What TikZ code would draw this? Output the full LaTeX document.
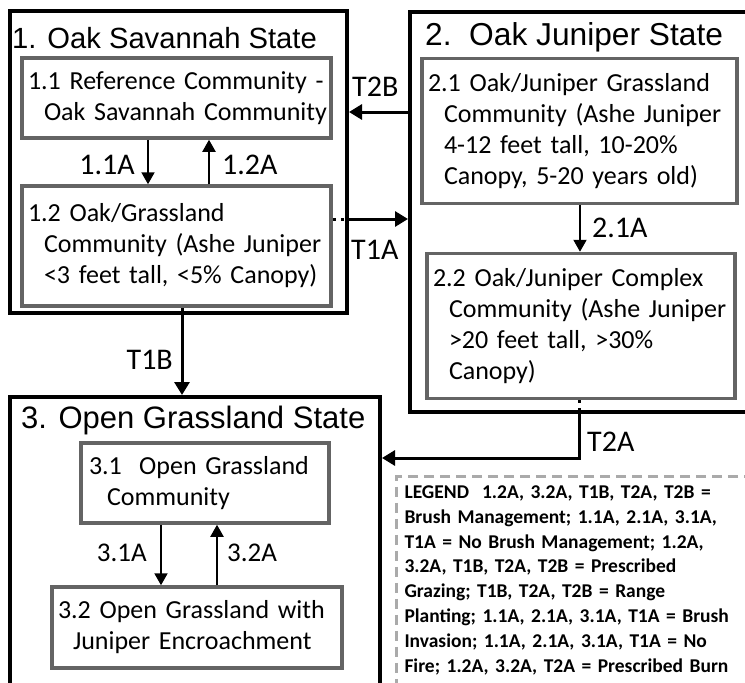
\documentclass[tikz,border=0pt]{standalone}
\usepackage{fontspec}
\setmainfont{Carlito}
\newfontfamily\titlefont{Liberation Sans}
\usetikzlibrary{arrows.meta,calc}
\definecolor{boxgray}{RGB}{100,100,100}
\definecolor{leggray}{RGB}{170,170,170}
\begin{document}
\begin{tikzpicture}[x=1pt,y=-1pt,
  statebox/.style={draw=black,line width=4pt,rectangle,inner sep=0pt},
  statetitle/.style={anchor=west,inner sep=0pt},
  comm/.style={draw=boxgray,line width=3.5pt,rectangle,align=left,inner xsep=6pt,inner ysep=0pt,
    font=\fontsize{26}{31}\selectfont},
  lab/.style={inner sep=0pt,font=\fontsize{30}{36}\selectfont},
  smlab/.style={inner sep=0pt,font=\fontsize{27}{32}\selectfont},
  tarrow/.style={line width=3pt,-{Triangle[length=13pt,width=15pt]}},
  carrow/.style={line width=2pt,-{Triangle[length=12pt,width=13pt]}},
  dotseg/.style={line width=3pt,dash pattern=on 3pt off 5pt}
]
\useasboundingbox (0,0) rectangle (745,683);
\fill[white] (0,0) rectangle (745,683);

% states
\node[statebox,minimum width=337pt,minimum height=302pt] (S1) at (178.5,162) {};
\node[statebox,minimum width=337pt,minimum height=400pt] (S2) at (578.5,212) {};
\node[statebox,minimum width=370pt,minimum height=303pt] (S3) at (195,548.5) {};
\node[statetitle,font=\titlefont\fontsize{29.2}{35}\selectfont] (t1) at (12,38) {1. Oak Savannah State};
\node[statetitle,font=\titlefont\fontsize{31.7}{37}\selectfont] (t2) at (425,37) {2.\ \ Oak Juniper State};
\node[statetitle,font=\titlefont\fontsize{31}{36}\selectfont] (t3) at (21,420) {3. Open Grassland State};

% communities
\node[comm,text width=297pt,minimum height=80pt] (b11) at (176.5,98)
  {\mbox{1.1 Reference Community -}\\\mbox{\hspace*{16pt}Oak Savannah Community}};
\node[comm,text width=297pt,minimum height=120pt] (b12) at (176.5,246)
  {\mbox{1.2 Oak/Grassland}\\\mbox{\hspace*{16pt}Community (Ashe Juniper}\\\mbox{\hspace*{16pt}<3 feet tall, <5\% Canopy)}};
\node[comm,text width=303pt,minimum height=145pt] (b21) at (579.5,131)
  {\mbox{2.1 Oak/Juniper Grassland}\\\mbox{\hspace*{16pt}Community (Ashe Juniper}\\\mbox{\hspace*{16pt}4-12 feet tall, 10-20\%}\\\mbox{\hspace*{16pt}Canopy, 5-20 years old)}};
\node[comm,text width=296pt,minimum height=145pt] (b22) at (581,326)
  {\mbox{2.2 Oak/Juniper Complex}\\\mbox{\hspace*{16pt}Community (Ashe Juniper}\\\mbox{\hspace*{16pt}>20 feet tall, >30\%}\\\mbox{\hspace*{16pt}Canopy)}};
\node[comm,text width=232pt,minimum height=80pt,inner xsep=8pt] (b31) at (205,483)
  {\mbox{3.1\ \ Open Grassland}\\\mbox{\hspace*{18pt}Community}};
\node[comm,text width=278pt,minimum height=81pt] (b32) at (197,627.5)
  {\mbox{3.2 Open Grassland with}\\\mbox{\hspace*{15pt}Juniper Encroachment}};

% legend
\node[draw=leggray,line width=3pt,dash pattern=on 10pt off 6pt,anchor=north west,align=left,
  text width=355pt,inner xsep=8pt,inner ysep=9pt,font=\bfseries\fontsize{19.5}{24.9}\selectfont] (leg) at (395,475)
  {\mbox{LEGEND\ \ 1.2A, 3.2A, T1B, T2A, T2B =}\\
   \mbox{Brush Management; 1.1A, 2.1A, 3.1A,}\\
   \mbox{T1A = No Brush Management; 1.2A,}\\
   \mbox{3.2A, T1B, T2A, T2B = Prescribed}\\
   \mbox{Grazing; T1B, T2A, T2B = Range}\\
   \mbox{Planting; 1.1A, 2.1A, 3.1A, T1A = Brush}\\
   \mbox{Invasion; 1.1A, 2.1A, 3.1A, T1A = No}\\
   \mbox{Fire; 1.2A, 3.2A, T2A = Prescribed Burn}};

% inner arrows
\draw[carrow] (b11.south -| 148,0) -- (b12.north -| 148,0);
\draw[carrow] (b12.north -| 209,0) -- (b11.south -| 209,0);
\draw[carrow] (b21.south -| 580,0) -- (b22.north -| 580,0);
\draw[carrow] (b31.south -| 161,0) -- (b32.north -| 161,0);
\draw[carrow] (b32.north -| 217,0) -- (b31.south -| 217,0);

% transitions
\draw[tarrow] (S2.west |- 0,112) -- (S1.east |- 0,112);
\draw[dotseg] (b12.east |- 0,219) -- (S1.east |- 0,219);
\draw[tarrow] (S1.east |- 0,219) -- (S2.west |- 0,219);
\draw[dotseg] (b12.south -| 182,0) -- (S1.south -| 182,0);
\draw[tarrow] (S1.south -| 182,0) -- (S3.north -| 182,0);
\draw[dotseg] (b22.south -| 579,0) -- (S2.south -| 579,0);
\draw[tarrow] (S2.south -| 579,0) |- (S3.east |- 0,458);

% labels
\node[lab,anchor=east] (l11) at (135,165) {1.1A};
\node[lab,anchor=west] (l12) at (222,165) {1.2A};
\node[lab,anchor=west] (lT2B) at (352,87) {T2B};
\node[lab,anchor=west] (lT1A) at (351,250) {T1A};
\node[lab,anchor=east] (lT1B) at (173,360) {T1B};
\node[lab,anchor=west] (l21) at (592,228) {2.1A};
\node[lab,anchor=west] (lT2A) at (587,442) {T2A};
\node[smlab,anchor=east] (l31) at (147,553) {3.1A};
\node[smlab,anchor=west] (l32) at (227,553) {3.2A};
\end{tikzpicture}
\end{document}
